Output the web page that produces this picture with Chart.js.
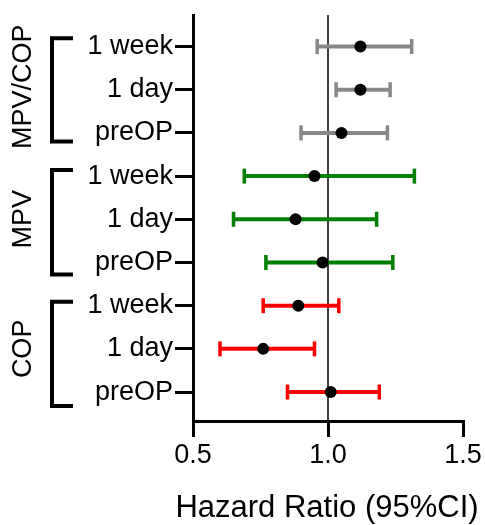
<!DOCTYPE html>
<html>
<head>
<meta charset="utf-8">
<script src="https://cdn.jsdelivr.net/npm/chart.js@4/dist/chart.umd.min.js"></script>
<style>
html,body{margin:0;padding:0;background:#fff;}
#wrap{width:485px;height:525px;}
</style>
</head>
<body>
<div id="wrap"><canvas id="c"></canvas></div>
<script>
// Data (rows listed top to bottom)
const groups = ['MPV/COP', 'MPV', 'COP'];
const timepoints = ['1 week', '1 day', 'preOP'];
const groupColors = ['#888888', '#008000', '#ff0000'];
const hazardRatio = [1.12, 1.12, 1.05, 0.95, 0.88, 0.98, 0.89, 0.76, 1.01];
const ciLow  = [0.96, 1.03, 0.90, 0.69, 0.65, 0.77, 0.76, 0.60, 0.85];
const ciHigh = [1.31, 1.23, 1.22, 1.32, 1.18, 1.24, 1.04, 0.95, 1.19];
const xTicks = [0.5, 1.0, 1.5];
const refValue = 1.0;
const xTitle = 'Hazard Ratio (95%CI)';

const FONT = '"Liberation Sans", Arial, sans-serif';
const nRows = hazardRatio.length;
const rowPos = hazardRatio.map((_, i) => nRows - 1 - i);
const rowLabels = hazardRatio.map((_, i) => timepoints[i % timepoints.length]);
const rowColor = hazardRatio.map((_, i) => groupColors[Math.floor(i / timepoints.length)]);
const yMin = -0.67, yMax = nRows - 1 + 0.73;

const ciSets = hazardRatio.map((_, i) => ({
  type: 'line',
  data: [{x: ciLow[i], y: rowPos[i]}, {x: ciHigh[i], y: rowPos[i]}],
  borderColor: rowColor[i],
  borderWidth: 4,
  pointStyle: 'line',
  rotation: 90,
  pointRadius: 7.5,
  pointBorderWidth: 3.5,
  pointBorderColor: rowColor[i],
  pointHoverRadius: 7.5,
  order: 2
}));

const refSet = {
  type: 'line',
  data: [{x: refValue, y: yMin}, {x: refValue, y: yMax}],
  borderColor: '#000',
  borderWidth: 1.5,
  pointRadius: 0,
  order: 3
};

const pointSet = {
  type: 'scatter',
  data: hazardRatio.map((v, i) => ({x: v, y: rowPos[i]})),
  backgroundColor: '#000',
  borderColor: '#000',
  pointRadius: 6,
  pointBorderWidth: 0,
  order: 1
};

const bracketOffsets = [[0.19, 0.2], [0.14, 0.28], [0.09, 0.32]];

const bracketPlugin = {
  id: 'brackets',
  afterDraw(chart) {
    const ctx = chart.ctx;
    const y = chart.scales.y;
    const area = chart.chartArea;
    ctx.save();
    groups.forEach((g, gi) => {
      const first = gi * timepoints.length;
      const last = first + timepoints.length - 1;
      const mid = first + Math.floor(timepoints.length / 2);
      const yt = y.getPixelForValue(rowPos[first] + bracketOffsets[gi][0]);
      const yb = y.getPixelForValue(rowPos[last] - bracketOffsets[gi][1]);
      ctx.strokeStyle = '#000';
      ctx.lineWidth = 4;
      ctx.lineCap = 'butt';
      ctx.lineJoin = 'miter';
      ctx.beginPath();
      ctx.moveTo(73, yt);
      ctx.lineTo(52, yt);
      ctx.lineTo(52, yb);
      ctx.lineTo(73, yb);
      ctx.stroke();
      ctx.save();
      ctx.translate(23, y.getPixelForValue(rowPos[mid]) - (gi === 0 ? 3 : 0));
      ctx.rotate(-Math.PI / 2);
      ctx.fillStyle = '#000';
      ctx.font = '27px ' + FONT;
      ctx.textAlign = 'center';
      ctx.textBaseline = 'middle';
      ctx.fillText(g, 0, 1);
      ctx.restore();
    });
    // x-axis title (drawn without width squeezing)
    ctx.fillStyle = '#000';
    ctx.font = '31px ' + FONT;
    ctx.textAlign = 'center';
    ctx.textBaseline = 'alphabetic';
    ctx.fillText(xTitle, (area.left + area.right) / 2 - 1, 517);
    ctx.restore();
  }
};

new Chart(document.getElementById('c'), {
  data: { datasets: [...ciSets, refSet, pointSet] },
  options: {
    responsive: true,
    maintainAspectRatio: false,
    animation: false,
    events: [],
    layout: { padding: { top: 15, right: 22, left: 0, bottom: 0 } },
    plugins: { legend: { display: false }, tooltip: { enabled: false } },
    scales: {
      x: {
        type: 'linear',
        min: xTicks[0],
        max: xTicks[xTicks.length - 1],
        afterBuildTicks: s => { s.ticks = xTicks.map(v => ({value: v})); },
        afterFit: s => { s.height = 104; s.paddingLeft = 0; s.paddingRight = 0; },
        ticks: {
          color: '#000',
          padding: 2,
          font: { family: FONT, size: 27 },
          callback: v => Number(v).toFixed(1)
        },
        grid: { drawOnChartArea: false, drawTicks: true, tickLength: 16, tickWidth: 3, tickColor: '#000', lineWidth: 3, color: '#000' },
        border: { display: true, color: '#000', width: 3 },
        title: { display: false, text: xTitle }
      },
      y: {
        type: 'linear',
        min: yMin,
        max: yMax,
        afterBuildTicks: s => { s.ticks = rowPos.map(v => ({value: v})); },
        afterFit: s => { s.width = 193; s.paddingTop = 0; s.paddingBottom = 0; },
        ticks: {
          color: '#000',
          padding: 2,
          font: { family: FONT, size: 27 },
          callback: v => rowLabels[rowPos.indexOf(v)]
        },
        grid: { drawOnChartArea: false, drawTicks: true, tickLength: 18, tickWidth: 3, tickColor: '#000', lineWidth: 3, color: '#000' },
        border: { display: true, color: '#000', width: 3 }
      }
    }
  },
  plugins: [bracketPlugin]
});
</script>
</body>
</html>
